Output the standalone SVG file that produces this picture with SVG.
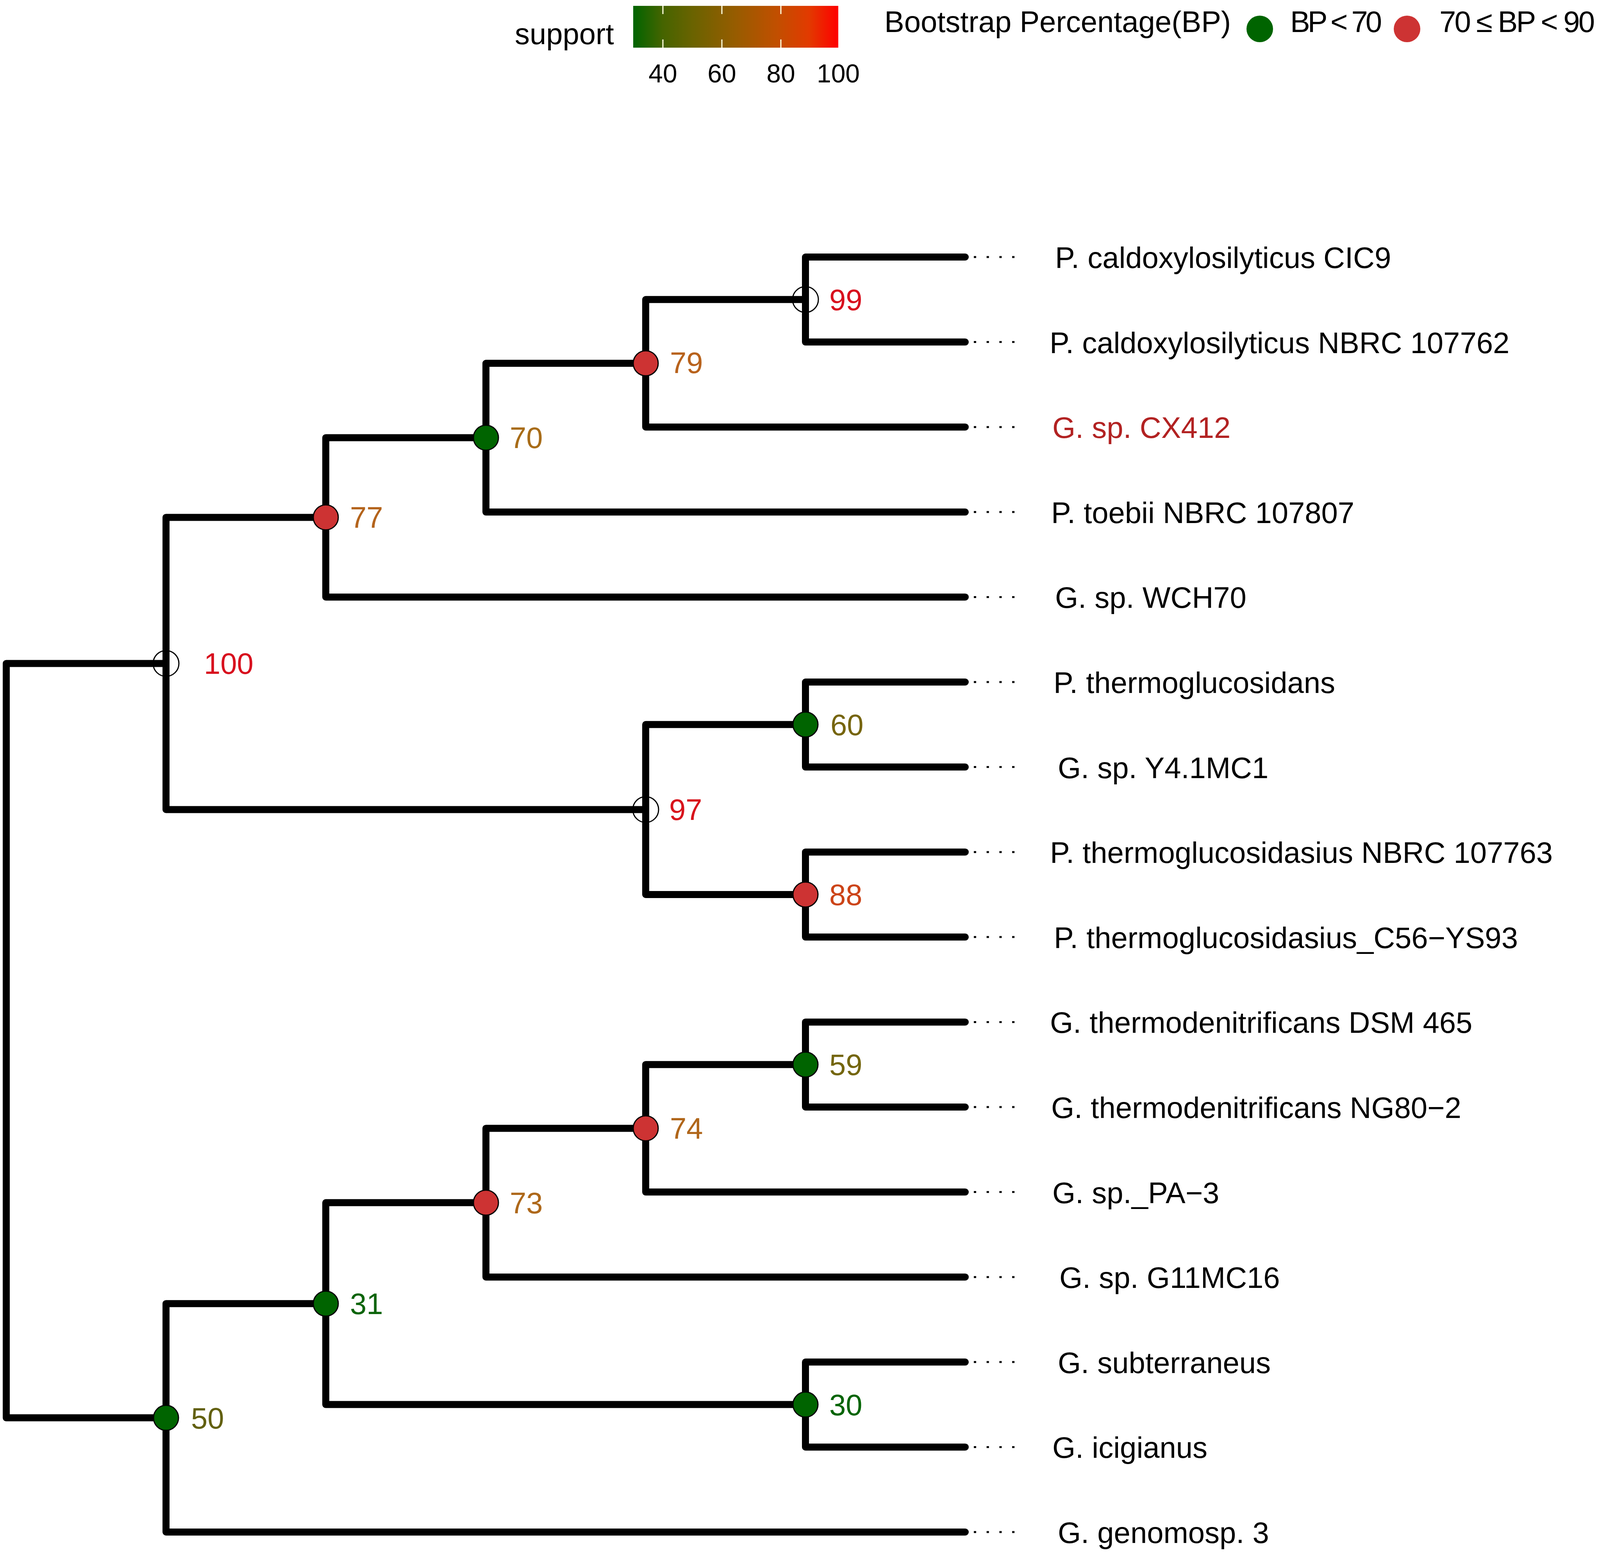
<svg xmlns="http://www.w3.org/2000/svg" width="4212" height="3991" viewBox="0 0 4212 3991">
<defs>
<linearGradient id="sup" x1="0" y1="0" x2="1" y2="0">
<stop offset="0" stop-color="#006400"/>
<stop offset="0.143" stop-color="#456400"/>
<stop offset="0.286" stop-color="#696300"/>
<stop offset="0.5" stop-color="#975C00"/>
<stop offset="0.7" stop-color="#C14F00"/>
<stop offset="0.857" stop-color="#E23A00"/>
<stop offset="1" stop-color="#FF0000"/>
</linearGradient>
</defs>
<style>
text{font-family:"Liberation Sans",Arial,Helvetica,sans-serif}
.br{fill:none;stroke:#000;stroke-width:18;stroke-linecap:round;stroke-linejoin:round}
.dt{stroke:#000;stroke-width:5;stroke-dasharray:6 26.7}
.tip{font-size:76px;fill:#000}
.nl{font-size:76px}
.g{fill:#006400;stroke:#000;stroke-width:3}
.r{fill:#CD3333;stroke:#000;stroke-width:3}
.o{fill:none;stroke:#000;stroke-width:3}
.tk{stroke:#FFFFE0;stroke-width:3}
.lg{font-size:76px;fill:#000}
</style>
<rect width="4212" height="3991" fill="#fff"/>
<g id="legend">
<text class="lg" x="1318" y="113" font-size="77">support</text>
<rect x="1621" y="15" width="525" height="107" fill="url(#sup)"/>
<line class="tk" x1="1697" y1="15" x2="1697" y2="36"/><line class="tk" x1="1697" y1="101" x2="1697" y2="122"/>
<line class="tk" x1="1848" y1="15" x2="1848" y2="36"/><line class="tk" x1="1848" y1="101" x2="1848" y2="122"/>
<line class="tk" x1="1999" y1="15" x2="1999" y2="36"/><line class="tk" x1="1999" y1="101" x2="1999" y2="122"/>
<g font-size="66" text-anchor="middle">
<text x="1697" y="211">40</text>
<text x="1848" y="211">60</text>
<text x="1999" y="211">80</text>
<text x="2146" y="211">100</text>
</g>
<text class="lg" x="2264" y="82">Bootstrap Percentage(BP)</text>
<circle cx="3225" cy="74" r="34" fill="#006400"/>
<text class="lg" x="3303" y="82" textLength="235" lengthAdjust="spacing">BP &lt; 70</text>
<circle cx="3602" cy="74" r="34" fill="#CD3333"/>
<text class="lg" x="3685" y="82" textLength="398" lengthAdjust="spacing">70 ≤ BP &lt; 90</text>
</g>
<g id="connectors">
<path class="br" d="M425 1698.4 H16 V3629.6 H425"/>
<path class="br" d="M834 1324.4 H425 V2072.4 H1653"/>
<path class="br" d="M1244 1120.4 H834 V1528.4 H2471"/>
<path class="br" d="M1653 930 H1244 V1310.8 H2471"/>
<path class="br" d="M2062 766.8 H1653 V1093.2 H2471"/>
<path class="br" d="M2471 658 H2062 V875.6 H2471"/>
<path class="br" d="M2062 1854.8 H1653 V2290 H2062"/>
<path class="br" d="M2471 1746 H2062 V1963.6 H2471"/>
<path class="br" d="M2471 2181.2 H2062 V2398.8 H2471"/>
<path class="br" d="M834 3337.2 H425 V3922 H2471"/>
<path class="br" d="M1244 3078.8 H834 V3595.6 H2062"/>
<path class="br" d="M1653 2888.4 H1244 V3269.2 H2471"/>
<path class="br" d="M2062 2725.2 H1653 V3051.6 H2471"/>
<path class="br" d="M2471 2616.4 H2062 V2834 H2471"/>
<path class="br" d="M2471 3486.8 H2062 V3704.4 H2471"/>
<line class="dt" x1="2493" y1="658" x2="2600" y2="658"/>
<line class="dt" x1="2493" y1="875.6" x2="2600" y2="875.6"/>
<line class="dt" x1="2493" y1="1093.2" x2="2600" y2="1093.2"/>
<line class="dt" x1="2493" y1="1310.8" x2="2600" y2="1310.8"/>
<line class="dt" x1="2493" y1="1528.4" x2="2600" y2="1528.4"/>
<line class="dt" x1="2493" y1="1746" x2="2600" y2="1746"/>
<line class="dt" x1="2493" y1="1963.6" x2="2600" y2="1963.6"/>
<line class="dt" x1="2493" y1="2181.2" x2="2600" y2="2181.2"/>
<line class="dt" x1="2493" y1="2398.8" x2="2600" y2="2398.8"/>
<line class="dt" x1="2493" y1="2616.4" x2="2600" y2="2616.4"/>
<line class="dt" x1="2493" y1="2834" x2="2600" y2="2834"/>
<line class="dt" x1="2493" y1="3051.6" x2="2600" y2="3051.6"/>
<line class="dt" x1="2493" y1="3269.2" x2="2600" y2="3269.2"/>
<line class="dt" x1="2493" y1="3486.8" x2="2600" y2="3486.8"/>
<line class="dt" x1="2493" y1="3704.4" x2="2600" y2="3704.4"/>
<line class="dt" x1="2493" y1="3922" x2="2600" y2="3922"/>
</g>
<g id="n100"><circle class="o" cx="425" cy="1698.4" r="33"/><text class="nl" x="522" y="1725" fill="#D8101E">100</text></g>
<g id="n77"><circle class="r" cx="834" cy="1324.4" r="32"/><text class="nl" x="896" y="1351" fill="#B4641C">77</text></g>
<g id="n70"><circle class="g" cx="1244" cy="1120.4" r="32"/><text class="nl" x="1305" y="1147" fill="#A86C18">70</text></g>
<g id="n79"><circle class="r" cx="1653" cy="930" r="32"/><text class="nl" x="1715" y="955" fill="#B8621C">79</text></g>
<g id="n99"><circle class="o" cx="2062" cy="766.8" r="33"/><text class="nl" x="2123" y="794" fill="#D8101E">99</text></g>
<g id="n97"><circle class="o" cx="1653" cy="2072.4" r="33"/><text class="nl" x="1713" y="2099" fill="#D8141C">97</text></g>
<g id="n60"><circle class="g" cx="2062" cy="1854.8" r="32"/><text class="nl" x="2126" y="1882" fill="#76650E">60</text></g>
<g id="n88"><circle class="r" cx="2062" cy="2290" r="32"/><text class="nl" x="2123" y="2317" fill="#CC4418">88</text></g>
<g id="n59"><circle class="g" cx="2062" cy="2725.2" r="32"/><text class="nl" x="2123" y="2752" fill="#74660E">59</text></g>
<g id="n74"><circle class="r" cx="1653" cy="2888.4" r="32"/><text class="nl" x="1715" y="2915" fill="#B0661A">74</text></g>
<g id="n73"><circle class="r" cx="1244" cy="3078.8" r="32"/><text class="nl" x="1305" y="3106" fill="#AE681A">73</text></g>
<g id="n31"><circle class="g" cx="834" cy="3337.2" r="32"/><text class="nl" x="896" y="3364" fill="#0C640A">31</text></g>
<g id="n30"><circle class="g" cx="2062" cy="3595.6" r="32"/><text class="nl" x="2123" y="3623" fill="#006400">30</text></g>
<g id="n50"><circle class="g" cx="425" cy="3629.6" r="32"/><text class="nl" x="489" y="3657" fill="#626010">50</text></g>
<g id="tip1"><text class="tip" x="2701" y="686">P. caldoxylosilyticus CIC9</text></g>
<g id="tip2"><text class="tip" x="2687" y="904">P. caldoxylosilyticus NBRC 107762</text></g>
<g id="tip3"><text class="tip" x="2694" y="1121" style="fill:#B22222">G. sp. CX412</text></g>
<g id="tip4"><text class="tip" x="2691" y="1339">P. toebii NBRC 107807</text></g>
<g id="tip5"><text class="tip" x="2701" y="1556">G. sp. WCH70</text></g>
<g id="tip6"><text class="tip" x="2697" y="1774">P. thermoglucosidans</text></g>
<g id="tip7"><text class="tip" x="2708" y="1992">G. sp. Y4.1MC1</text></g>
<g id="tip8"><text class="tip" x="2688" y="2209">P. thermoglucosidasius NBRC 107763</text></g>
<g id="tip9"><text class="tip" x="2698" y="2427">P. thermoglucosidasius_C56−YS93</text></g>
<g id="tip10"><text class="tip" x="2688" y="2644">G. thermodenitrificans DSM 465</text></g>
<g id="tip11"><text class="tip" x="2691" y="2862">G. thermodenitrificans NG80−2</text></g>
<g id="tip12"><text class="tip" x="2694" y="3080">G. sp._PA−3</text></g>
<g id="tip13"><text class="tip" x="2712" y="3297">G. sp. G11MC16</text></g>
<g id="tip14"><text class="tip" x="2708" y="3515">G. subterraneus</text></g>
<g id="tip15"><text class="tip" x="2694" y="3732">G. icigianus</text></g>
<g id="tip16"><text class="tip" x="2708" y="3950">G. genomosp. 3</text></g>
</svg>
